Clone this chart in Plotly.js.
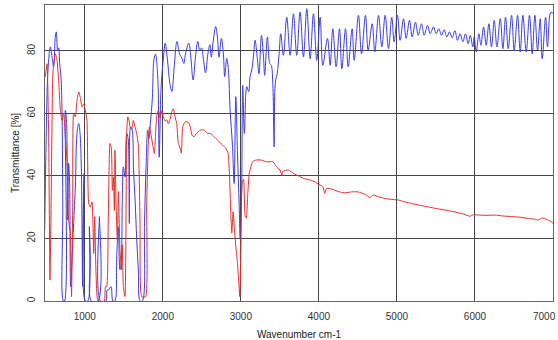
<!DOCTYPE html>
<html>
<head>
<meta charset="utf-8">
<script src="https://cdn.plot.ly/plotly-3.0.1.min.js"></script>
<style>html,body{margin:0;padding:0;background:#fff;overflow:hidden;}#chart{width:558px;height:340px;}</style>
</head>
<body>
<div id="chart"></div>
<script>
const blueWn = [486,503,528,558,580,601,622,635,652,665,678,695,708,718,725,740,751,765,781,793,805,819,836,857,879,900,922,938,956,973,990,1007,1040,1058,1070,1085,1170,1187,1200,1270,1285,1302,1336,1360,1385,1409,1430,1450,1465,1481,1494,1515,1537,1555,1571,1588,1605,1625,1645,1665,1686,1708,1738,1765,1785,1806,1822,1840,1866,1885,1906,1936,1953,1979,2009,2030,2060,2088,2116,2146,2181,2215,2246,2270,2290,2332,2355,2388,2418,2448,2474,2496,2517,2547,2577,2603,2621,2647,2677,2699,2720,2750,2776,2793,2819,2840,2862,2892,2914,2935,2957,2978,2991,3009,3024,3045,3075,3100,3117,3140,3160,3182,3211,3232,3264,3290,3305,3340,3370,3390,3410,3426,3442,3465,3490,3511,3545,3588,3631,3674,3716,3759,3802,3845,3888,3930,3973,4016,4050,4110,4144,4178,4221,4264,4294,4341,4375,4426,4452,4507,4546,4597,4631,4683,4717,4764,4806,4849,4892,4934,4964,5007,5041,5084,5118,5161,5195,5238,5272,5315,5349,5392,5426,5469,5503,5537,5571,5605,5640,5674,5708,5743,5776,5810,5845,5879,5913,5939,5973,5990,6016,6050,6076,6110,6144,6178,6212,6247,6281,6324,6358,6392,6426,6469,6503,6546,6580,6614,6657,6699,6734,6768,6802,6836,6862,6905,6930,6973,7007];
const blueT = [22.7,49.3,73.8,81.3,78.1,74.9,84.5,86.1,80.2,81,76,71.7,61,30,0,0,61,58,25.9,44,38,4.6,13.1,24.8,36.5,53.6,56.8,54,41.9,4.6,40.8,0,0,23.8,14,0,0,27,0,0,3.5,3.5,4.6,0,0,14.1,23.7,10,12,32.3,42.9,39.7,53.6,52,24.8,55.7,55,42,32,20,9.9,0,0,25,42.9,54.6,52,56.7,65,77,79,71,46,69,78,82.5,77,70,67,75,83,79,77.6,76,79,82.5,79,70.7,78,83,80,81,78,73,79,82,78,83.5,87.8,84.6,78,84,79,71.8,77.6,74,61,50,37.6,65.4,47,31,20,34,69,53.6,68.6,67,71.7,74,78,83.4,77.5,72.7,85,78,72.2,84.5,76,75.4,69,49.3,70,72.7,79,85.5,78.6,90.8,78.6,91.9,78.6,92.4,78.1,93.5,77.5,91.9,77,90.8,75.4,84,75.4,87.1,74.9,87.1,74.3,87.1,74.9,87.1,77,91.4,79.1,91.4,80.2,88.7,79.7,91.4,81.3,91.4,80.7,90.8,82.9,91.4,83.4,90.3,84,89.8,84.5,89.2,85,88.7,85,88.2,85.5,87.7,85.5,87.1,85,86.8,84.5,86.1,84.2,86.5,83.4,85.5,82.9,85.5,82.3,85,81.3,84.5,79.7,85.5,81.8,87.7,81.8,88.7,81.3,89.8,81.3,90.3,80.7,90.8,80.7,91.4,80.2,91.4,79.7,91.4,79.7,91.4,79.1,91.4,80.2,90.3,77.5,90.8,81.3,92.4,91.9];

const redWn = [494,516,537,554,571,593,622,644,665,687,708,729,751,772,793,815,830,845,857,879,900,922,943,964,985,1007,1028,1050,1071,1093,1114,1127,1144,1170,1250,1264,1280,1300,1323,1340,1353,1366,1379,1387,1400,1417,1430,1451,1470,1480,1494,1515,1537,1550,1565,1580,1600,1622,1640,1665,1686,1708,1729,1780,1793,1815,1828,1850,1870,1892,1910,1926,1943,1965,1985,2007,2030,2050,2071,2092,2114,2135,2156,2178,2199,2220,2237,2255,2289,2332,2355,2375,2400,2430,2483,2530,2569,2610,2655,2700,2741,2780,2806,2836,2853,2871,2884,2901,2920,2940,2957,2974,2987,3000,3017,3035,3056,3070,3090,3108,3129,3151,3194,3259,3332,3409,3440,3474,3503,3524,3540,3610,3674,3740,3802,3888,3952,3990,4050,4075,4097,4165,4250,4332,4420,4503,4600,4652,4695,4780,4845,4930,5016,5100,5187,5300,5400,5500,5614,5700,5785,5860,5935,5980,6041,6150,6255,6360,6469,6580,6683,6760,6811,6860,6896,6930,6960,7003];
const redT = [71.7,75.9,52.5,6.7,36.5,73.8,79.1,77,70.6,61,57.8,60,52.5,45,25.9,21.6,1.4,30,60,58.9,64.2,66.9,65,62.1,63,61,57.8,31.2,30,31.7,15.2,27,8.8,0,0,4.6,4.6,25,50.4,49,35.4,39.7,29,48.2,31.2,19.5,35,16.3,10,18,4.6,1.4,53.6,58.9,58,55.7,55,57.8,56,53.6,50,25,1.4,1.4,30,51.4,55.7,53,50,47.2,55,59.9,61,58.5,61,58.9,57.5,58,56.7,58,60.5,61.5,59,56.7,50.4,49,47.3,55.8,57.4,57,55.5,53,52.5,53.6,54.7,54.7,53.6,53.6,52.6,51.5,50.5,49.5,48.9,47.3,40.9,28,21.7,28.6,22,16.3,12,5.7,1.4,15,37.7,39,27,26.5,35,40.9,43,44.6,45.1,45.1,44.5,44.6,43.5,42.5,41.9,40.3,41.5,41.9,40.8,40,39.2,38.7,38.1,37.4,36.6,34.4,36,35.8,35,34.6,34.9,34.9,34,33.1,33.9,33.2,32.8,32.5,32.3,31.7,31.2,30.6,30.1,29.6,29.1,28.7,28.2,27.8,27.1,27.6,27.5,27.4,27.5,27.2,27,26.8,26.4,26.2,25.9,26.6,26.4,25.9,25.7,24.8];

const xTicks = [1000,2000,3000,4000,5000,6000,7000];
const yTicks = [0,20,40,60,80];

const traces = [
  {x: blueWn, y: blueT, type: 'scatter', mode: 'lines', line: {color: 'rgb(60,60,235)', width: 1, shape: 'spline', smoothing: 1}, showlegend: false},
  {x: redWn, y: redT, type: 'scatter', mode: 'lines', line: {color: 'rgb(235,45,45)', width: 1, shape: 'spline', smoothing: 0.5}, showlegend: false}
];

const fontFam = 'Liberation Sans, Arial, sans-serif';
const layout = {
  width: 558, height: 340,
  margin: {l: 45, r: 5, t: 5, b: 39, pad: 0},
  paper_bgcolor: '#fff', plot_bgcolor: '#fff',
  font: {family: fontFam, size: 10, color: '#333'},
  xaxis: {
    range: [490, 7000], tickvals: xTicks.slice(0, 6), ticktext: xTicks.slice(0, 6).map(String),
    showgrid: true, gridcolor: '#444', gridwidth: 1,
    showline: true, linecolor: '#666', linewidth: 1, mirror: true,
    zeroline: false, ticks: '', ticklabelstandoff: 6, tickfont: {size: 10, color: '#333'},
    title: {text: 'Wavenumber cm-1', font: {size: 10, color: '#222'}, standoff: 10}
  },
  yaxis: {
    range: [0, 94.7], tickvals: yTicks, ticktext: yTicks.map(String),
    showgrid: true, gridcolor: '#444', gridwidth: 1,
    showline: true, linecolor: '#666', linewidth: 1, mirror: true,
    zeroline: false, ticks: '', tickangle: -90, ticklabelstandoff: 5, tickfont: {size: 10, color: '#333'},
    title: {text: 'Transmittance [%]', font: {size: 10, color: '#222'}, standoff: 4}
  },
  annotations: [{
    x: xTicks[6], xref: 'x', y: 0, yref: 'paper', yanchor: 'top', xanchor: 'right',
    xshift: 5, yshift: -8, text: String(xTicks[6]), showarrow: false, font: {size: 10, color: '#333'}
  }]
};

Plotly.newPlot('chart', traces, layout, {staticPlot: true, displayModeBar: false});
</script>
</body>
</html>
